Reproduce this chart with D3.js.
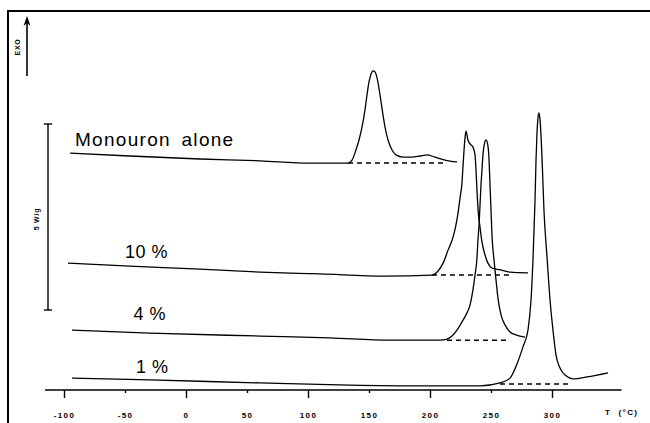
<!DOCTYPE html>
<html>
<head>
<meta charset="utf-8">
<script src="https://cdn.jsdelivr.net/npm/d3@7"></script>
<style>
  body { margin: 0; background: #fff; }
  svg { display: block; font-family: "Liberation Sans", Arial, sans-serif; }
</style>
</head>
<body>
<div id="plot"></div>
<script>
// DSC traces, temperature (°C) and heat flow (W/g, stacked offsets)
const monoT = [-95, -46, 11.5, 60.7, 101.6, 132.8, 136.1, 139.3, 141.8, 144.3, 146.7, 148.4, 150.0, 151.6, 153.3, 154.9, 156.6, 159.0, 161.5, 163.1, 165.6, 168.9, 172.1, 177.9, 185.2, 191.8, 197.5, 204.1, 212.3, 222.1];
const monoQ = [6.37, 6.29, 6.21, 6.16, 6.10, 6.10, 6.18, 6.45, 6.72, 7.07, 7.53, 7.94, 8.28, 8.49, 8.58, 8.55, 8.39, 7.94, 7.39, 7.07, 6.72, 6.45, 6.32, 6.26, 6.26, 6.29, 6.32, 6.26, 6.18, 6.13];

const p10T = [-96.7, -45.9, 11.5, 60.7, 109.8, 163.1, 201.6, 206.6, 210.7, 214.8, 218.9, 221.3, 223.0, 224.6, 226.2, 227.0, 227.9, 228.7, 229.5, 231.1, 233.6, 235.2, 236.9, 237.7, 238.5, 239.3, 241.0, 242.6, 245.1, 247.5, 250.8, 257.4, 265.6, 280.3];
const p10Q = [3.41, 3.33, 3.25, 3.17, 3.12, 3.06, 3.09, 3.20, 3.41, 3.76, 4.11, 4.44, 4.76, 5.16, 5.56, 5.99, 6.45, 6.77, 6.96, 6.72, 6.59, 6.53, 6.32, 5.91, 5.38, 4.89, 4.38, 3.98, 3.63, 3.41, 3.28, 3.23, 3.17, 3.15];

const p4T = [-93.4, -29.5, 60.7, 118.0, 167.2, 208.2, 213.9, 218.0, 222.1, 226.2, 229.5, 232.8, 235.2, 236.9, 238.5, 239.3, 240.2, 241.0, 241.8, 242.6, 243.4, 244.3, 245.9, 247.5, 248.4, 249.2, 250.0, 250.8, 252.5, 254.1, 255.7, 258.2, 261.5, 265.6, 270.5, 277.9];
const p4Q = [1.61, 1.53, 1.45, 1.40, 1.34, 1.34, 1.37, 1.45, 1.61, 1.83, 2.02, 2.28, 2.69, 3.09, 3.55, 4.03, 4.44, 4.97, 5.51, 5.91, 6.32, 6.56, 6.72, 6.56, 6.18, 5.51, 4.84, 4.17, 3.49, 2.96, 2.47, 2.02, 1.75, 1.56, 1.48, 1.42];

const p1T = [-93.4, -29.5, 60.7, 134.4, 191.8, 241.0, 257.4, 265.6, 271.3, 276.2, 280.3, 282.8, 284.4, 286.1, 286.9, 287.7, 288.5, 289.3, 290.2, 291.8, 293.4, 295.9, 298.4, 300.8, 303.3, 306.6, 311.5, 317.2, 328.7, 345.9];
const p1Q = [0.32, 0.27, 0.19, 0.13, 0.11, 0.11, 0.19, 0.32, 0.70, 1.16, 1.61, 2.42, 3.49, 5.11, 6.18, 6.91, 7.31, 7.45, 7.26, 6.26, 4.84, 3.58, 2.42, 1.61, 0.94, 0.59, 0.38, 0.30, 0.35, 0.46];

// dashed baselines under each peak: [T start, T end, level]
const baseMono = [132.8, 210.7, 6.10];
const base10 = [201.6, 268.0, 3.09];
const base4 = [213.9, 263.9, 1.34];
const base1 = [257.4, 314.8, 0.16];

const labels = ["Monouron alone", "10 %", "4 %", "1 %"];
const labelT = [-91, -50, -43, -41];
const labelQ = [6.55, 3.55, 1.88, 0.45];

const tickVals = [-100, -50, 0, 50, 100, 150, 200, 250, 300];

// 5 W/g scale bar, from 2.15 to 7.15
const barRange = [2.15, 7.15];

const W = 650, H = 423;
const svg = d3.select("#plot").append("svg")
  .attr("width", W)
  .attr("height", H);

const x = d3.scaleLinear().domain([-100, 300]).range([64, 552]);
const y = d3.scaleLinear().domain([0, 10]).range([390, 18]);

// frame (top and left edges)
svg.append("path")
  .attr("d", "M8,423 L8,11 L650,11")
  .attr("fill", "none")
  .attr("stroke", "#000")
  .attr("stroke-width", 2);

// EXO arrow
svg.append("line")
  .attr("x1", 27).attr("x2", 27)
  .attr("y1", 76).attr("y2", 22)
  .attr("stroke", "#000").attr("stroke-width", 1.6);
svg.append("path")
  .attr("d", "M27,16 L23.5,26 L27,23 L30.5,26 Z")
  .attr("fill", "#000");
svg.append("text")
  .attr("transform", "translate(20,47) rotate(-90)")
  .attr("text-anchor", "middle")
  .style("font-size", "7px")
  .style("font-weight", "bold")
  .style("letter-spacing", "0.8px")
  .text("EXO");

// scale bar
const barX = 48;
svg.append("line")
  .attr("x1", barX).attr("x2", barX)
  .attr("y1", y(barRange[0])).attr("y2", y(barRange[1]))
  .attr("stroke", "#000").attr("stroke-width", 1.4);
barRange.forEach(v => {
  svg.append("line")
    .attr("x1", barX - 4).attr("x2", barX + 4)
    .attr("y1", y(v)).attr("y2", y(v))
    .attr("stroke", "#000").attr("stroke-width", 1.4);
});
svg.append("text")
  .attr("transform", `translate(39,${y((barRange[0] + barRange[1]) / 2) + 2}) rotate(-90)`)
  .attr("text-anchor", "middle")
  .style("font-size", "7px")
  .style("font-weight", "bold")
  .style("letter-spacing", "0.8px")
  .text("5 W/g");

// x axis
const axisY = y(0);
svg.append("line")
  .attr("x1", x(-115.5)).attr("x2", x(357))
  .attr("y1", axisY).attr("y2", axisY)
  .attr("stroke", "#000").attr("stroke-width", 1.4);

const ax = svg.append("g")
  .attr("transform", `translate(0,${axisY})`)
  .call(d3.axisBottom(x).tickValues(tickVals).tickSize(8).tickPadding(14).tickSizeOuter(0));
ax.select(".domain").remove();
ax.selectAll(".tick line")
  .attr("stroke-width", 1.4)
  .attr("y2", d => d % 100 === 0 ? 8 : 3);
ax.selectAll(".tick text")
  .style("font-family", "'Liberation Sans', Arial, sans-serif")
  .style("font-size", "8px")
  .style("font-weight", "bold")
  .style("letter-spacing", "1.4px")
  .text(d => d);

svg.append("text")
  .attr("x", 605).attr("y", 415)
  .style("font-size", "8px")
  .style("font-weight", "bold")
  .style("letter-spacing", "1.4px")
  .style("white-space", "pre")
  .text("T  (°C)");

// curves
const line = d3.line()
  .x(d => x(d[0]))
  .y(d => y(d[1]))
  .curve(d3.curveMonotoneX);

const traces = [[monoT, monoQ], [p10T, p10Q], [p4T, p4Q], [p1T, p1Q]];
traces.forEach(([ts, qs]) => {
  svg.append("path")
    .datum(ts.map((t, i) => [t, qs[i]]))
    .attr("d", line)
    .attr("fill", "none")
    .attr("stroke", "#000")
    .attr("stroke-width", 1.3);
});

[baseMono, base10, base4, base1].forEach(b => {
  svg.append("line")
    .attr("x1", x(b[0])).attr("x2", x(b[1]))
    .attr("y1", y(b[2])).attr("y2", y(b[2]))
    .attr("stroke", "#000")
    .attr("stroke-width", 1.5)
    .attr("stroke-dasharray", "5,4");
});

// curve labels
labels.forEach((s, i) => {
  svg.append("text")
    .attr("x", x(labelT[i]))
    .attr("y", y(labelQ[i]))
    .style("font-size", i === 0 ? "19px" : "18px")
    .style("letter-spacing", i === 0 ? "1.3px" : "0.5px")
    .style("word-spacing", i === 0 ? "4px" : "0px")
    .text(s);
});
</script>
</body>
</html>
